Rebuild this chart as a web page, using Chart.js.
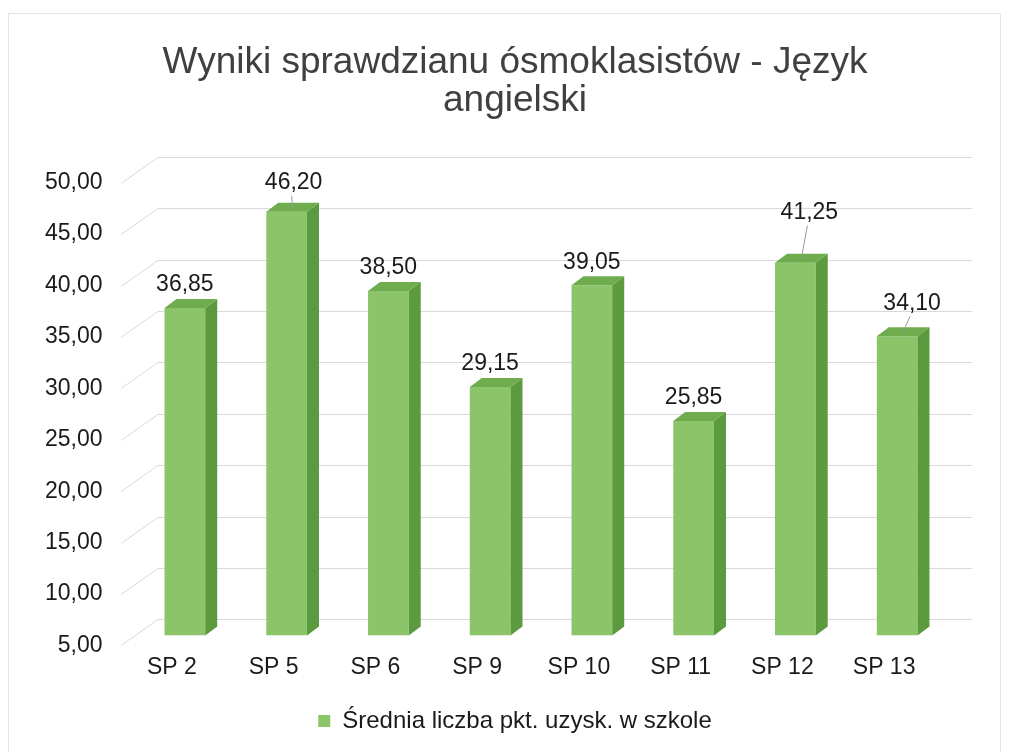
<!DOCTYPE html>
<html>
<head>
<meta charset="utf-8">
<script src="https://cdn.jsdelivr.net/npm/chart.js@4.4.1/dist/chart.umd.min.js"></script>
<style>
  html, body { margin: 0; padding: 0; background: #fff; }
  #wrap { width: 1009px; height: 753px; }
</style>
</head>
<body>
<div id="wrap"><canvas id="chart-area" width="1009" height="753"></canvas></div>
<script>
"use strict";

// Wyniki sprawdzianu ósmoklasistów - Język angielski

const SCHOOLS = ["SP 2", "SP 5", "SP 6", "SP 9", "SP 10", "SP 11", "SP 12", "SP 13"];

const AVG_POINTS = [36.85, 46.2, 38.5, 29.15, 39.05, 25.85, 41.25, 34.1];

const SERIES_NAME = "Średnia liczba pkt. uzysk. w szkole";

const Y_MIN = 5;
const Y_MAX = 50;
const Y_STEP = 5;

const FONT = "'Liberation Sans', Arial, sans-serif";

function plFormat(v) {
  return v.toFixed(2).replace(".", ",");
}

// fake Excel-style 3D: back wall gridlines, shifted bars with side + top faces
const bar3d = {
  id: "bar3d",
  beforeDatasetsDraw(chart, args, opts) {
    const { ctx, chartArea } = chart;
    const y = chart.scales.y;
    ctx.save();
    ctx.strokeStyle = opts.gridColor;
    ctx.lineWidth = 1;
    y.ticks.forEach(t => {
      const py = Math.round(y.getPixelForValue(t.value)) + 0.5;
      ctx.beginPath();
      ctx.moveTo(chartArea.left, py);
      ctx.lineTo(chartArea.left + opts.wallDx, py + opts.wallDy);
      ctx.lineTo(chartArea.right + opts.wallDx, py + opts.wallDy);
      ctx.stroke();
    });
    ctx.restore();

    ctx.save();
    ctx.translate(opts.frontDx, opts.frontDy);
  },
  afterDatasetsDraw(chart, args, opts) {
    const { ctx } = chart;
    const meta = chart.getDatasetMeta(0);
    const dx = opts.depthDx, dy = opts.depthDy;
    meta.data.forEach(bar => {
      const p = bar.getProps(["x", "y", "base", "width"], true);
      const l = p.x - p.width / 2, r = p.x + p.width / 2;
      ctx.fillStyle = opts.sideColor;
      ctx.beginPath();
      ctx.moveTo(r, p.y);
      ctx.lineTo(r + dx, p.y + dy);
      ctx.lineTo(r + dx, p.base + dy);
      ctx.lineTo(r, p.base);
      ctx.closePath();
      ctx.fill();
      ctx.fillStyle = opts.topColor;
      ctx.beginPath();
      ctx.moveTo(l, p.y);
      ctx.lineTo(l + dx, p.y + dy);
      ctx.lineTo(r + dx, p.y + dy);
      ctx.lineTo(r, p.y);
      ctx.closePath();
      ctx.fill();
    });
    ctx.restore();
  },
  afterDraw(chart, args, opts) {
    const { ctx } = chart;
    const meta = chart.getDatasetMeta(0);
    const values = chart.data.datasets[0].data;
    ctx.save();
    ctx.font = opts.labelFont;
    ctx.fillStyle = "#1a1a1a";
    ctx.textAlign = "center";
    ctx.textBaseline = "middle";
    meta.data.forEach((bar, i) => {
      const nudge = opts.labelNudge[i] || [0, 0];
      const topX = bar.x + opts.frontDx;
      const topY = bar.y + opts.frontDy;
      const lx = topX + nudge[0];
      const ly = topY - opts.labelGap - nudge[1];
      ctx.fillText(plFormat(values[i]), lx, ly);
      if (nudge[1] > 0) {
        ctx.strokeStyle = "#9a9a9a";
        ctx.lineWidth = 1;
        ctx.beginPath();
        ctx.moveTo(lx - 2, ly + 13);
        ctx.lineTo(topX + opts.depthDx / 2, topY + opts.depthDy / 2);
        ctx.stroke();
      }
    });
    // faint scan frame
    ctx.strokeStyle = "#e4e4e4";
    ctx.beginPath();
    ctx.moveTo(8.5, 752);
    ctx.lineTo(8.5, 13.5);
    ctx.lineTo(1000.5, 13.5);
    ctx.lineTo(1000.5, 752);
    ctx.stroke();
    ctx.restore();
  }
};

const config = {
  type: "bar",
  data: {
    labels: SCHOOLS,
    datasets: [
      {
        label: SERIES_NAME,
        data: AVG_POINTS,
        base: Y_MIN,
        backgroundColor: "#8cc46a",
        borderWidth: 0,
        categoryPercentage: 1,
        barPercentage: 0.4
      }
    ]
  },
  options: {
    responsive: false,
    animation: false,
    layout: {
      padding: { left: 95, right: 74, top: 0, bottom: 10 }
    },
    scales: {
      x: {
        offset: true,
        grid: { display: false, drawTicks: false },
        border: { display: false },
        ticks: {
          color: "#1a1a1a",
          font: { family: FONT, size: 23 },
          padding: 8
        }
      },
      y: {
        min: Y_MIN,
        max: Y_MAX,
        beginAtZero: false,
        grid: { display: false, drawTicks: false },
        border: { display: false },
        afterFit(scale) {
          scale.width = 26;
        },
        ticks: {
          stepSize: Y_STEP,
          color: "#1a1a1a",
          font: { family: FONT, size: 23 },
          // labels sit left of the (narrow) axis box, right-aligned
          mirror: true,
          crossAlign: "far",
          padding: -76,
          callback: v => plFormat(v)
        }
      }
    },
    plugins: {
      title: {
        display: true,
        text: ["Wyniki sprawdzianu ósmoklasistów - Język", "angielski"],
        color: "#404040",
        font: { family: FONT, size: 37, weight: "normal", lineHeight: 1.05 },
        padding: { top: 43, bottom: 62 }
      },
      legend: {
        position: "bottom",
        labels: {
          color: "#1a1a1a",
          font: { family: FONT, size: 24 },
          boxWidth: 12,
          boxHeight: 12,
          padding: 20
        }
      },
      tooltip: { enabled: false },
      bar3d: {
        gridColor: "#d9d9d9",
        wallDx: 37,
        wallDy: -26,
        frontDx: 13,
        frontDy: -10,
        depthDx: 12,
        depthDy: -9,
        sideColor: "#5b9a3e",
        topColor: "#6fac4e",
        labelFont: "23px " + FONT,
        labelGap: 23,
        labelNudge: { 1: [7, 6], 6: [14, 27], 7: [15, 10] }
      }
    }
  },
  plugins: [bar3d]
};

window.onload = function() {
  const ctx = document.getElementById("chart-area").getContext("2d");
  window.myBar = new Chart(ctx, config);
};
</script>
</body>
</html>
